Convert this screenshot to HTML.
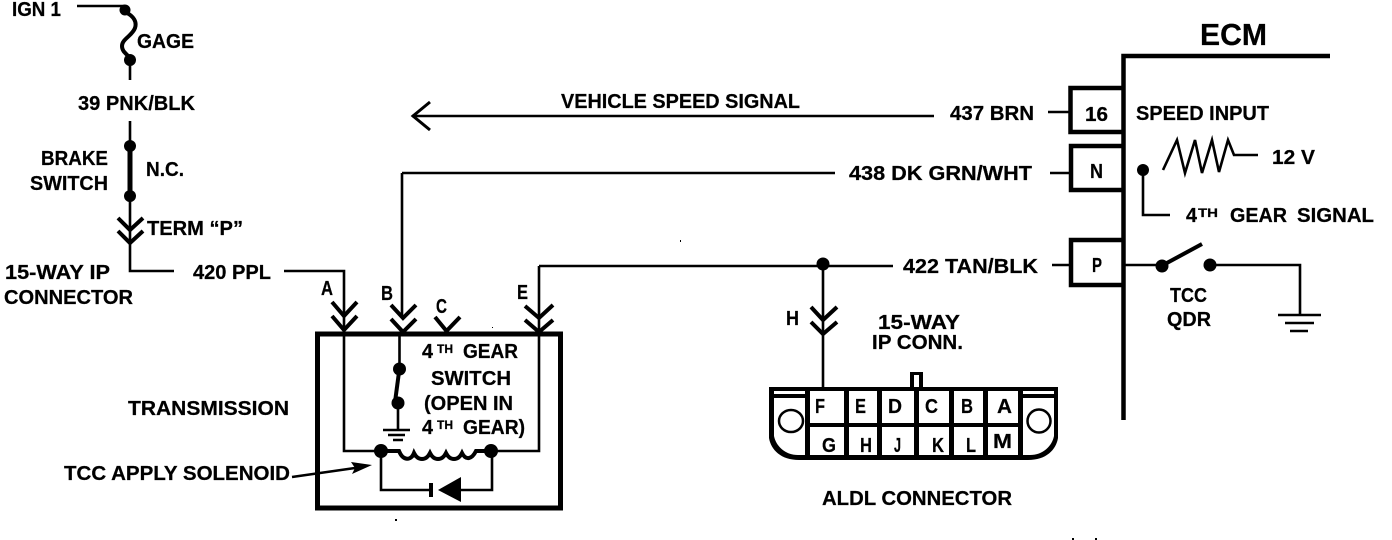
<!DOCTYPE html>
<html><head><meta charset="utf-8"><style>
html,body{margin:0;padding:0;background:#fff}
svg{display:block}
text{font-family:"Liberation Sans",sans-serif;font-weight:bold;font-size:20px;fill:#000;stroke:#000;stroke-width:.25}
.s{font-size:12px}
.l{fill:none;stroke:#000;stroke-width:2.600}
.c{fill:none;stroke:#000;stroke-width:4}
.t{fill:none;stroke:#000;stroke-width:5}
</style></head><body>
<svg width="1392" height="540" viewBox="0 0 1392 540" xmlns="http://www.w3.org/2000/svg">
<rect width="1392" height="540" fill="#fff"/>

<!-- left column -->
<path class="l" d="M77 6H125"/>
<circle cx="125" cy="10" r="5.500"/>
<path class="c" d="M125 12C134 16 137 22 135 28C132 36 122 39 122 46C122 52 127 54 130 58"/>
<circle cx="130" cy="60" r="6"/>
<path class="l" d="M130 60V80M130 121V145"/>
<circle cx="130" cy="146" r="6"/><circle cx="130" cy="196" r="6"/>
<path class="t" d="M130 146V196"/>
<path class="l" d="M130 196V271H174M284 271H344V451H380"/>
<path class="c" d="M118 218L130 230L143 218M118 231L130 243L143 231"/>

<text x="12" y="16" textLength="49" lengthAdjust="spacingAndGlyphs">IGN 1</text>
<text x="137" y="48" textLength="57" lengthAdjust="spacingAndGlyphs">GAGE</text>
<text x="78" y="110" textLength="117" lengthAdjust="spacingAndGlyphs">39 PNK/BLK</text>
<text x="41" y="165" textLength="67" lengthAdjust="spacingAndGlyphs">BRAKE</text>
<text x="30" y="190" textLength="78" lengthAdjust="spacingAndGlyphs">SWITCH</text>
<text x="146" y="176" textLength="38" lengthAdjust="spacingAndGlyphs">N.C.</text>
<text x="147" y="235" textLength="96" lengthAdjust="spacingAndGlyphs">TERM “P”</text>
<text x="5" y="279" textLength="105" lengthAdjust="spacingAndGlyphs">15-WAY IP</text>
<text x="4" y="304" textLength="129" lengthAdjust="spacingAndGlyphs">CONNECTOR</text>
<text x="193" y="279" textLength="78" lengthAdjust="spacingAndGlyphs">420 PPL</text>

<!-- transmission box -->
<rect x="317.500" y="334" width="243" height="174" fill="none" stroke="#000" stroke-width="5"/>
<path class="c" d="M332 302L344 316L357 302M332 316L344 330L357 316"/>
<path class="c" d="M391 305L403 318L416 305M391 319L403 332L416 319"/>
<path class="c" d="M435 317L446.500 331L460 317"/>
<path class="c" d="M525 306L539 318L553 305M525 320L539 332L553 320"/>
<path class="l" d="M402 173V318M399.500 334V369M398 403V430M539 266V451H492M381 451V490H430M461 490H492V451"/>
<circle cx="399.500" cy="369" r="6.500"/>
<circle cx="398" cy="403" r="6.500"/>
<path class="c" d="M399 372L395 402"/>
<path class="l" d="M383 430H410M388 435H405M393 440H403"/>
<circle cx="381" cy="451" r="7"/><circle cx="491" cy="451" r="7"/>
<path class="c" d="M381 451H399C403 461 411 461 414 453C418 461 426 461 430 453C434 461 442 461 446 453C450 461 458 461 462 453C466 461 472 459 476 451H491"/>
<path d="M429 483h4v14h-4z"/>
<path d="M438 490L461 477V502Z"/>
<path class="l" d="M292 477L355 468"/>
<path d="M372 465L351 462L355 468L352 474Z"/>

<text x="321" y="295" textLength="12" lengthAdjust="spacingAndGlyphs">A</text>
<text x="381" y="300" textLength="12" lengthAdjust="spacingAndGlyphs">B</text>
<text x="436" y="313" textLength="11" lengthAdjust="spacingAndGlyphs">C</text>
<text x="517" y="299" textLength="11" lengthAdjust="spacingAndGlyphs">E</text>
<text x="422" y="358" textLength="11" lengthAdjust="spacingAndGlyphs">4</text>
<text class="s" x="437" y="353" textLength="16" lengthAdjust="spacingAndGlyphs">TH</text>
<text x="463" y="358" textLength="55" lengthAdjust="spacingAndGlyphs">GEAR</text>
<text x="431" y="385" textLength="80" lengthAdjust="spacingAndGlyphs">SWITCH</text>
<text x="424" y="410" textLength="89" lengthAdjust="spacingAndGlyphs">(OPEN IN</text>
<text x="422" y="434" textLength="11" lengthAdjust="spacingAndGlyphs">4</text>
<text class="s" x="437" y="429" textLength="16" lengthAdjust="spacingAndGlyphs">TH</text>
<text x="463" y="434" textLength="62" lengthAdjust="spacingAndGlyphs">GEAR)</text>
<text x="128" y="415" textLength="161" lengthAdjust="spacingAndGlyphs">TRANSMISSION</text>
<text x="64" y="480" textLength="226" lengthAdjust="spacingAndGlyphs">TCC APPLY SOLENOID</text>

<!-- vehicle speed -->
<path class="l" d="M412 116H934M1048 112H1070M835 173H402M1050 173H1070M539 266H893M1052 265H1070M823 264V388"/>
<path class="l" style="stroke-width:3" d="M430 102L413 116L430 130"/>
<text x="561" y="108" textLength="239" lengthAdjust="spacingAndGlyphs">VEHICLE SPEED SIGNAL</text>
<text x="950" y="120" textLength="84" lengthAdjust="spacingAndGlyphs">437 BRN</text>
<text x="849" y="180" textLength="183" lengthAdjust="spacingAndGlyphs">438 DK GRN/WHT</text>
<text x="903" y="273" textLength="135" lengthAdjust="spacingAndGlyphs">422 TAN/BLK</text>
<circle cx="823" cy="264" r="6.500"/>
<path class="c" d="M811 307L823 320L837 307M811 322L823 334L837 322"/>
<text x="786" y="325" textLength="13" lengthAdjust="spacingAndGlyphs">H</text>
<text x="878" y="329" textLength="82" lengthAdjust="spacingAndGlyphs">15-WAY</text>
<text x="872" y="349" textLength="91" lengthAdjust="spacingAndGlyphs">IP CONN.</text>

<!-- ALDL connector -->
<path d="M769 387H1058V438C1056 450 1046 460 1028 460H799C781 460 771 450 769 438Z"/>
<path d="M910 372h13v16h-13z"/><rect x="914" y="375" width="5" height="12" fill="#fff"/>
<g fill="#fff">
<path d="M774 398H805V455H798C785 455 776 446 774 436Z"/>
<path d="M1023 398H1054V436C1052 446 1043 455 1030 455H1023Z"/>
<rect x="810" y="391" width="34" height="32"/><rect x="849" y="391" width="28" height="32"/><rect x="882" y="391" width="32" height="32"/><rect x="919" y="391" width="30" height="32"/><rect x="954" y="391" width="29" height="32"/><rect x="988" y="391" width="30" height="32"/>
<rect x="810" y="427" width="34" height="28"/><rect x="849" y="427" width="28" height="28"/><rect x="882" y="427" width="32" height="28"/><rect x="919" y="427" width="30" height="28"/><rect x="954" y="427" width="29" height="28"/><rect x="988" y="427" width="30" height="28"/>
<rect x="774" y="391" width="31" height="3"/><rect x="1023" y="391" width="31" height="3"/>
</g>
<ellipse cx="791" cy="421" rx="12" ry="11" fill="#fff" stroke="#000" stroke-width="2.500"/>
<circle cx="1039" cy="421" r="11.500" fill="#fff" stroke="#000" stroke-width="2.500"/>
<text x="815" y="413" textLength="10" lengthAdjust="spacingAndGlyphs">F</text>
<text x="855" y="413" textLength="11" lengthAdjust="spacingAndGlyphs">E</text>
<text x="888" y="413" textLength="14" lengthAdjust="spacingAndGlyphs">D</text>
<text x="925" y="413" textLength="13" lengthAdjust="spacingAndGlyphs">C</text>
<text x="961" y="413" textLength="12" lengthAdjust="spacingAndGlyphs">B</text>
<text x="997" y="413" textLength="15" lengthAdjust="spacingAndGlyphs">A</text>
<text x="822" y="452" textLength="14" lengthAdjust="spacingAndGlyphs">G</text>
<text x="860" y="452" textLength="12" lengthAdjust="spacingAndGlyphs">H</text>
<text x="894" y="452" textLength="7" lengthAdjust="spacingAndGlyphs">J</text>
<text x="932" y="452" textLength="12" lengthAdjust="spacingAndGlyphs">K</text>
<text x="966" y="452" textLength="10" lengthAdjust="spacingAndGlyphs">L</text>
<text x="993" y="448" textLength="19" lengthAdjust="spacingAndGlyphs">M</text>
<text x="822" y="505" textLength="190" lengthAdjust="spacingAndGlyphs">ALDL CONNECTOR</text>

<!-- ECM -->
<path class="c" style="stroke-width:4.500" d="M1123.500 420V56H1330"/>
<path class="c" style="stroke-width:4.500" d="M1123 88H1070.500V132H1123M1123 146H1071V190H1123M1123 240H1071V285H1123"/>
<text x="1200" y="45" style="font-size:31px" textLength="67" lengthAdjust="spacingAndGlyphs">ECM</text>
<text x="1085" y="121" textLength="23" lengthAdjust="spacingAndGlyphs">16</text>
<text x="1090" y="178" textLength="13" lengthAdjust="spacingAndGlyphs">N</text>
<text x="1092" y="272" textLength="10" lengthAdjust="spacingAndGlyphs">P</text>
<text x="1136" y="120" textLength="133" lengthAdjust="spacingAndGlyphs">SPEED INPUT</text>
<text x="1272" y="164" textLength="43" lengthAdjust="spacingAndGlyphs">12 V</text>
<circle cx="1143" cy="170" r="6"/>
<path class="l" d="M1143 170V215H1170"/>
<path class="l" d="M1163 170L1177 140L1185 173L1195 140L1202 173L1212 140L1219 172L1228 140L1234 155H1258"/>
<text x="1186" y="222" textLength="11" lengthAdjust="spacingAndGlyphs">4</text>
<text class="s" x="1198" y="217" textLength="20" lengthAdjust="spacingAndGlyphs">TH</text>
<text x="1230" y="222" textLength="57" lengthAdjust="spacingAndGlyphs">GEAR</text>
<text x="1297" y="222" textLength="77" lengthAdjust="spacingAndGlyphs">SIGNAL</text>
<path class="l" d="M1125 265H1162M1210 265H1300V315"/>
<circle cx="1162" cy="266" r="6.500"/><circle cx="1210" cy="265" r="6.500"/>
<path class="c" d="M1165 264L1202 244"/>
<path class="l" d="M1278 315H1321M1285 323H1314M1290 331H1308"/>
<text x="1170" y="302" textLength="37" lengthAdjust="spacingAndGlyphs">TCC</text>
<text x="1167" y="326" textLength="44" lengthAdjust="spacingAndGlyphs">QDR</text>

<!-- scan specks -->
<rect x="395" y="519" width="2" height="2"/><rect x="680" y="240" width="1" height="2"/><rect x="1072" y="538" width="2" height="2"/><rect x="1095" y="538" width="2" height="2"/><rect x="492" y="327" width="1" height="1"/>
</svg>
</body></html>
